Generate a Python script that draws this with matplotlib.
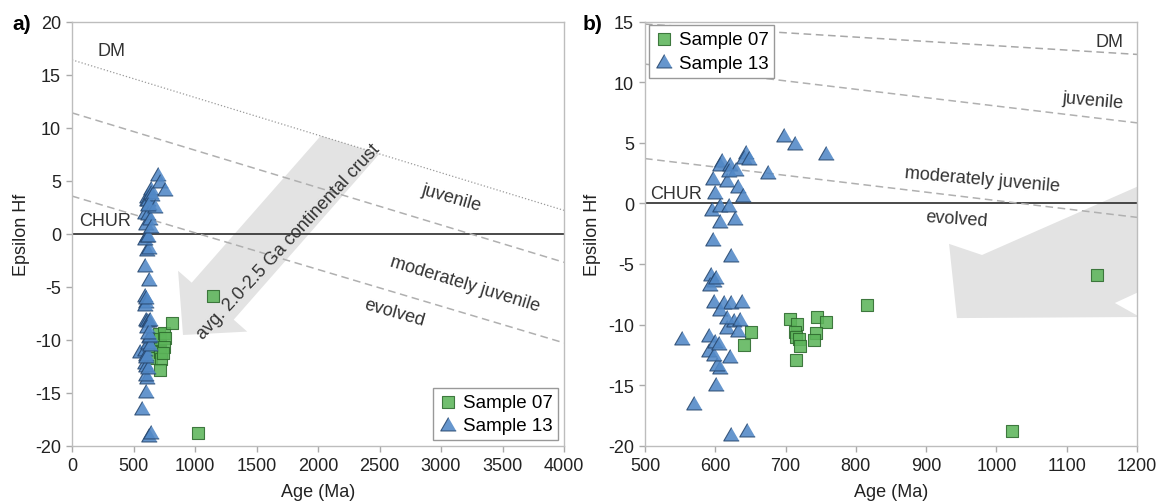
import numpy as np
import matplotlib
matplotlib.use('Agg')
import matplotlib.pyplot as plt
from matplotlib.patches import Polygon

plt.rcParams['font.family'] = ['Liberation Sans', 'DejaVu Sans']
plt.rcParams['axes.unicode_minus'] = False

# Sample 07 (squares): age (Ma), epsilon Hf
age_07 = [651, 640.5, 707, 716.7, 713, 715, 719, 721, 715, 745, 758, 744, 741, 816, 1143.6, 1021.5]
hf_07 = [-10.6, -11.7, -9.5, -9.95, -10.65, -11.06, -11.2, -11.8, -12.9, -9.4, -9.8, -10.7, -11.25, -8.4, -5.9, -18.8]

# Sample 13 (triangles)
age_13 = [552, 570, 622, 645, 601, 606, 602, 590.5, 597.6, 590.5, 600, 621, 605, 616.7, 626,
          633, 635.7, 597.6, 612, 622, 638, 607, 616.7, 594, 597.6, 592, 601, 622, 597, 606,
          628.6, 595, 607, 619, 596.7, 599, 609.5, 606, 621, 630, 616.7, 632, 639.5, 643,
          640.5, 647.6, 674.8, 697.6, 714, 757, 619]
hf_13 = [-11.3, -16.6, -19.2, -18.9, -15.05, -13.7, -13.4, -12.3, -12.6, -11.06, -11.5, -12.8, -11.7, -10.4, -9.8,
         -10.6, -9.7, -8.2, -8.3, -8.3, -8.2, -8.9, -9.5, -6.0, -6.5, -6.85, -6.2, -4.45, -3.1, -1.6,
         -1.4, -0.6, -0.3, -0.3, 1.9, 0.8, 3.4, 3.1, 3.1, 2.7, 1.75, 1.3, 0.5, 4.1,
         3.7, 3.6, 2.4, 5.45, 4.8, 4.0, 2.6]

# reference evolution lines (values at the two ends of each panel)
ends_a = [0, 4000]
dm_a = [16.4, 2.2]
juv_a = [11.4, -2.7]
evo_a = [3.55, -10.3]
ends_b = [500, 1200]
dm_b = [14.8, 12.3]
juv_b = [11.5, 6.65]
evo_b = [3.7, -1.15]

tri = [(0, 1.155), (-1, -0.577), (1, -0.577)]
green, green_e = '#5db55b', '#2d6a2d'
blue, blue_e = '#5188c6', '#27476e'
txt = '#333333'

fig = plt.figure(figsize=(11.63, 5.02), dpi=100)
ax_a = fig.add_axes([72/1163, 1-446.7/502, 492/1163, 424/502])
ax_b = fig.add_axes([645/1163, 1-446.7/502, 492/1163, 424/502])


def style(ax):
    for s in ax.spines.values():
        s.set_color('#bdbdbd')
        s.set_linewidth(1)
    ax.tick_params(direction='out', length=4, width=1, color='#aaaaaa',
                   labelcolor='#222222', labelsize=13, pad=4)
    ax.axhline(0, color='#3a3a3a', lw=1.3, zorder=2)
    ax.set_xlabel('Age (Ma)', fontsize=13, color='#222222')
    ax.set_ylabel('Epsilon Hf', fontsize=13, color='#222222')
    ax.xaxis.set_label_coords(0.5, -0.107)
    ax.xaxis.label.set_va('center')
    ax.yaxis.label.set_va('center')


def points(ax):
    ax.scatter(age_07, hf_07, marker='s', s=72, c=green, edgecolors=green_e,
               linewidths=0.8, alpha=0.88, zorder=4, label='Sample 07')
    ax.scatter(age_13, hf_13, marker=tri, s=165, c=blue, edgecolors=blue_e,
               linewidths=0.8, alpha=0.88, zorder=4, label='Sample 13')


# ---- panel a
style(ax_a)
ax_a.set_xlim(0, 4000)
ax_a.set_ylim(-20, 20)
ax_a.set_xticks(np.arange(0, 4001, 500))
ax_a.set_yticks(np.arange(-20, 21, 5))
ax_a.yaxis.set_label_coords(-0.102, 0.5)

arrow_a = [(0.2256, 0.2611), (0.3561, 0.2691), (0.3287, 0.2972), (0.6248, 0.6882),
           (0.5055, 0.7307), (0.2433, 0.3845), (0.2156, 0.4126)]
ax_a.add_patch(Polygon(arrow_a, closed=True, transform=ax_a.transAxes,
                       fc='#e3e3e3', ec='none', zorder=1))
ax_a.text(0.439, 0.483, 'avg. 2.0-2.5 Ga continental crust', transform=ax_a.transAxes,
          rotation=47, rotation_mode='anchor', ha='center', va='center',
          fontsize=13, color=txt, zorder=3)

ax_a.plot(ends_a, dm_a, ls=':', color='#9a9a9a', lw=0.9, zorder=2)
ax_a.plot(ends_a, juv_a, ls=(0, (5, 3)), color='#b0b0b0', lw=1.1, zorder=2)
ax_a.plot(ends_a, evo_a, ls=(0, (5, 3)), color='#b0b0b0', lw=1.1, zorder=2)

ax_a.text(323, 17.26, 'DM', fontsize=13, color=txt, ha='center', va='center')
ax_a.text(268, 1.25, 'CHUR', fontsize=13, color=txt, ha='center', va='center')
ax_a.text(3087, 3.43, 'juvenile', fontsize=13, color=txt, ha='center', va='center',
          rotation=-16, rotation_mode='anchor')
ax_a.text(3195, -4.75, 'moderately juvenile', fontsize=13, color=txt, ha='center',
          va='center', rotation=-17, rotation_mode='anchor')
ax_a.text(2618, -7.4, 'evolved', fontsize=13, color=txt, ha='center', va='center',
          rotation=-16, rotation_mode='anchor')

points(ax_a)
leg = ax_a.legend(loc='lower right', fontsize=13.5, fancybox=False, framealpha=1,
                  edgecolor='#999999', borderaxespad=0.3, handletextpad=0.3,
                  borderpad=0.3, labelspacing=0.35, handlelength=1.0, scatterpoints=1)
leg.get_frame().set_linewidth(1)

# ---- panel b
style(ax_b)
ax_b.set_xlim(500, 1200)
ax_b.set_ylim(-20, 15)
ax_b.set_xticks(np.arange(500, 1201, 100))
ax_b.set_yticks(np.arange(-20, 16, 5))
ax_b.yaxis.set_label_coords(-0.106, 0.5)

arrow_b = [(0.634, 0.301), (1.006, 0.3035), (0.955, 0.3366), (1.140, 0.4356),
           (1.128, 0.676), (0.685, 0.4498), (0.618, 0.476)]
ax_b.add_patch(Polygon(arrow_b, closed=True, transform=ax_b.transAxes,
                       fc='#e3e3e3', ec='none', zorder=1))

ax_b.plot(ends_b, dm_b, ls=(0, (5, 3)), color='#a8a8a8', lw=1.1, zorder=2)
ax_b.plot(ends_b, juv_b, ls=(0, (5, 3)), color='#b0b0b0', lw=1.1, zorder=2)
ax_b.plot(ends_b, evo_b, ls=(0, (5, 3)), color='#b0b0b0', lw=1.1, zorder=2)

ax_b.text(1161, 13.35, 'DM', fontsize=13, color=txt, ha='center', va='center')
ax_b.text(544, 0.85, 'CHUR', fontsize=13, color=txt, ha='center', va='center')
ax_b.text(1137, 8.48, 'juvenile', fontsize=13, color=txt, ha='center', va='center',
          rotation=-5, rotation_mode='anchor')
ax_b.text(980, 2.0, 'moderately juvenile', fontsize=13, color=txt, ha='center',
          va='center', rotation=-5, rotation_mode='anchor')
ax_b.text(943, -1.3, 'evolved', fontsize=13, color=txt, ha='center', va='center',
          rotation=-4, rotation_mode='anchor')

points(ax_b)
leg = ax_b.legend(loc='upper left', fontsize=13.5, fancybox=False, framealpha=1,
                  edgecolor='#999999', borderaxespad=0.2, handletextpad=0.3,
                  borderpad=0.3, labelspacing=0.35, handlelength=1.0, scatterpoints=1)
leg.get_frame().set_linewidth(1)
leg.set_zorder(6)

fig.text(12/1163, 1-25/502, 'a)', fontsize=15, fontweight='bold', va='center', ha='left')
fig.text(583/1163, 1-25/502, 'b)', fontsize=15, fontweight='bold', va='center', ha='left')

fig.savefig('out.png', dpi=100)
